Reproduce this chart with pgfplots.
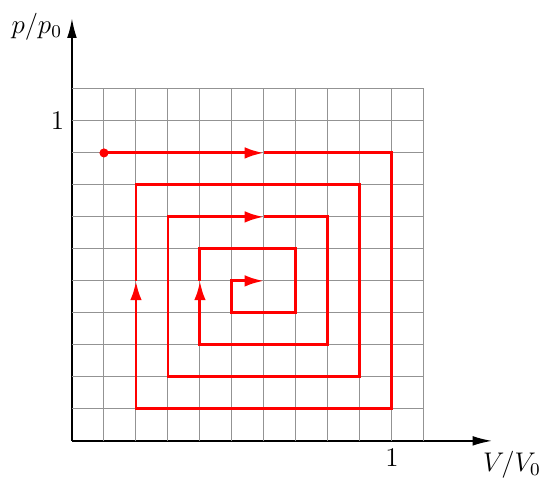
\documentclass[border=0pt]{standalone}
\usepackage{pgfplots}
\pgfplotsset{compat=1.18}
\usetikzlibrary{arrows.meta}
\begin{document}
\begin{tikzpicture}
\begin{axis}[
  x=5cm, y=5cm,
  xmin=0, xmax=1.3125, ymin=0, ymax=1.32,
  axis lines=left,
  axis line style={line width=0.6pt, -{Latex[length=3mm,width=1.5mm]}},
  xtick={1}, ytick={1},
  major tick length=0pt,
  tick label style={font=\large},
  clip=false,
]
% grid only up to 1.1
\pgfplotsinvokeforeach{0.1,0.2,0.3,0.4,0.5,0.6,0.7,0.8,0.9,1.0,1.1}{
  \draw[gray!85, line width=0.45pt] (axis cs:#1,0) -- (axis cs:#1,1.1);
  \draw[gray!85, line width=0.45pt] (axis cs:0,#1) -- (axis cs:1.1,#1);
}
\addplot[red, line width=1.3pt, -{Latex[length=3mm,width=1.8mm]}] coordinates {
  (0.1,0.9) (0.6,0.9)};
\addplot[red, line width=1.3pt, -{Latex[length=3mm,width=1.8mm]}] coordinates {
  (0.6,0.9) (1.0,0.9) (1.0,0.1) (0.2,0.1) (0.2,0.5)};
\addplot[red, line width=1.3pt, -{Latex[length=3mm,width=1.8mm]}] coordinates {
  (0.2,0.5) (0.2,0.8) (0.9,0.8) (0.9,0.2) (0.3,0.2) (0.3,0.7) (0.6,0.7)};
\addplot[red, line width=1.3pt, -{Latex[length=3mm,width=1.8mm]}] coordinates {
  (0.6,0.7) (0.8,0.7) (0.8,0.3) (0.4,0.3) (0.4,0.5)};
\addplot[red, line width=1.3pt, -{Latex[length=3mm,width=1.8mm]}] coordinates {
  (0.4,0.5) (0.4,0.6) (0.7,0.6) (0.7,0.4) (0.5,0.4) (0.5,0.5) (0.6,0.5)};
\addplot[red, only marks, mark=*, mark size=1.8pt] coordinates {(0.1,0.9)};
\node[anchor=east, inner sep=0pt, font=\large] at (axis cs:-0.03,1.295) {$p/p_0$};
\node[anchor=north, inner sep=0pt, font=\large] at (axis cs:1.375,-0.031) {$V/V_0$};
\path (axis cs:-0.225,-0.103) rectangle (axis cs:1.466,1.378);
\end{axis}
\end{tikzpicture}
\end{document}
